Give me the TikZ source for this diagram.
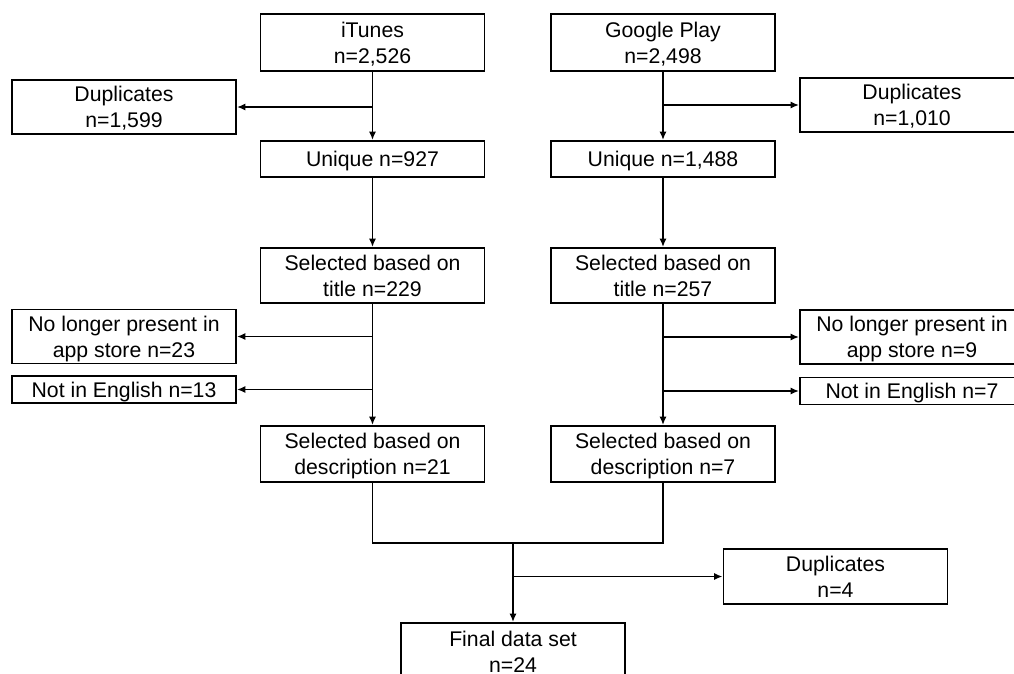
\documentclass[tikz,border=0pt]{standalone}
\usepackage{fontspec}
\setmainfont{Liberation Sans}
\usepackage{tikz}
\usetikzlibrary{arrows.meta, positioning, calc}
\tikzset{
  align=center,
  box/.style={draw, line width=1.3pt, inner xsep=2pt, inner ysep=0pt, minimum width=224*0.025cm,
    font=\fontsize{15.1}{18.3}\selectfont, text depth=-7pt},
  pto/.style={-{Latex[length=6pt,width=5pt]}, line width=1.3pt},
  alin/.style={line width=1.3pt}
}

\begin{document}
\begin{tikzpicture}[x=0.025cm, y=-0.025cm]
  \useasboundingbox (0,0) rectangle (1014,673);
  \clip (0,0) rectangle (1014,673);

  % iTunes column
  \node[box, minimum height=57*0.025cm] (it) at (372.5,42.5) {iTunes\\n=2,526};
  \node[box, minimum height=54*0.025cm] (itdup) at (124,107) {Duplicates\\n=1,599};
  \node[box, minimum height=36*0.025cm] (ituniq) at (372.5,159) {Unique n=927};
  \node[box, minimum height=55*0.025cm] (ittitle) at (372.5,275.5) {Selected based on\\title n=229};
  \node[box, minimum height=54*0.025cm] (itgone) at (124,336.5) {No longer present in\\app store n=23};
  \node[box, minimum height=27*0.025cm] (iteng) at (124,389.5) {Not in English n=13};
  \node[box, minimum height=56*0.025cm] (itdesc) at (372.5,454) {Selected based on\\description n=21};

  % Google Play column
  \node[box, minimum height=57*0.025cm] (gp) at (663,42.5) {Google Play\\n=2,498};
  \node[box, minimum height=54*0.025cm] (gpdup) at (912,105) {Duplicates\\n=1,010};
  \node[box, minimum height=36*0.025cm] (gpuniq) at (663,159) {Unique n=1,488};
  \node[box, minimum height=55*0.025cm] (gptitle) at (663,275.5) {Selected based on\\title n=257};
  \node[box, minimum height=54*0.025cm] (gpgone) at (912,337) {No longer present in\\app store n=9};
  \node[box, minimum height=27*0.025cm] (gpeng) at (912,391) {Not in English n=7};
  \node[box, minimum height=56*0.025cm] (gpdesc) at (663,454) {Selected based on\\description n=7};

  % merged
  \node[box, minimum height=55*0.025cm] (dup) at (835.5,576.5) {Duplicates\\n=4};
  \node[box, minimum height=57*0.025cm] (final) at (513,651.5) {Final data set\\n=24};

  % branch points
  \coordinate (b1) at (it.south |- itdup.east);
  \coordinate (b2) at (gp.south |- gpdup.west);
  \coordinate (b3) at (ittitle.south |- itgone.east);
  \coordinate (b4) at (ittitle.south |- iteng.east);
  \coordinate (b5) at (gptitle.south |- gpgone.west);
  \coordinate (b6) at (gptitle.south |- gpeng.west);
  \coordinate (m) at (final.north |- 0,543);
  \coordinate (b7) at (m |- dup.west);

  \draw[pto] (it) -- (ituniq);
  \draw[pto] (b1) -- (itdup);
  \draw[pto] (ituniq) -- (ittitle);
  \draw[pto] (ittitle) -- (itdesc);
  \draw[pto] (b3) -- (itgone);
  \draw[pto] (b4) -- (iteng);

  \draw[pto] (gp) -- (gpuniq);
  \draw[pto] (b2) -- (gpdup);
  \draw[pto] (gpuniq) -- (gptitle);
  \draw[pto] (gptitle) -- (gpdesc);
  \draw[pto] (b5) -- (gpgone);
  \draw[pto] (b6) -- (gpeng);

  \draw[alin] (itdesc.south) |- (m) -| (gpdesc.south);
  \draw[pto] (m) -- (final);
  \draw[pto] (b7) -- (dup);
\end{tikzpicture}
\end{document}
